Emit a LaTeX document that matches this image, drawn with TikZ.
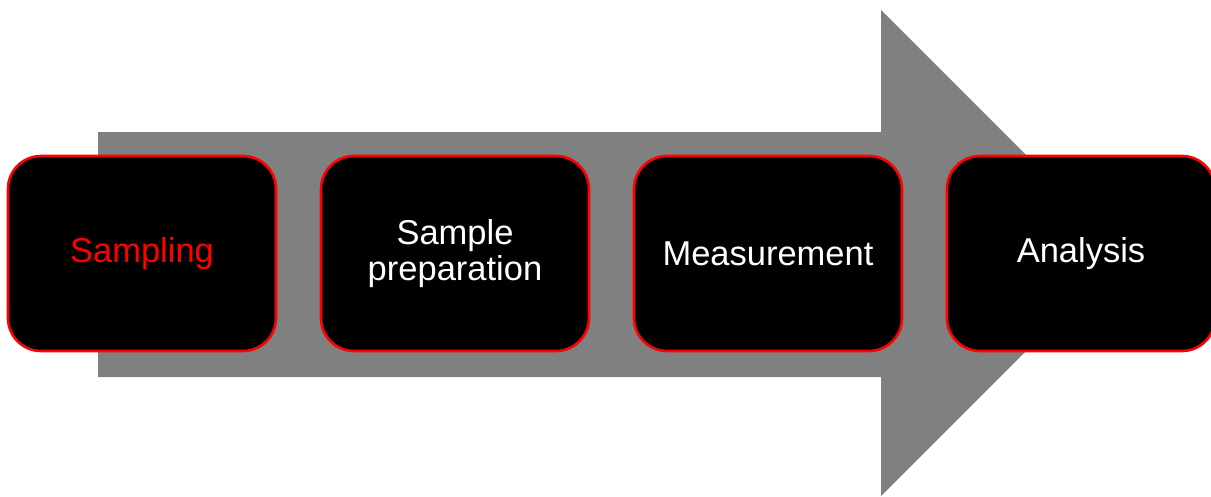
\documentclass[tikz,border=0pt]{standalone}
\usepackage{fontspec}
\setmainfont{Liberation Sans}
\usepackage{tikz}
\usetikzlibrary{positioning}

\begin{document}
\begin{tikzpicture}[
    x=1pt, y=-1pt,
    stage/.style={draw=stageR, fill=black, line width=2.6pt, rounded corners=33pt,
                  minimum width=268pt, minimum height=195pt, inner sep=0pt, outer sep=0pt,
                  align=center, text=white, font=\fontsize{34.5}{36}\selectfont},
]

% Color definitions
\definecolor{arrowG}{RGB}{128,128,128}
\definecolor{stageR}{RGB}{255,0,0}

% Frame
\useasboundingbox (0,0) rectangle (1211,496);
\clip (0,0) rectangle (1211,496);

% Big arrow behind the stages
\fill[arrowG] (98,132) -- (881,132) -- (881,10) -- (1124,253)
  -- (881,496) -- (881,377) -- (98,377) -- cycle;

% Stages left to right
\node[stage, text=stageR] (samp) at (142,253.5) {Sampling};
\node[stage, right=45pt of samp] (prep) {Sample\\preparation};
\node[stage, right=45pt of prep] (meas) {Measurement};
\node[stage, right=45pt of meas] (anal) {Analysis};

\end{tikzpicture}
\end{document}
